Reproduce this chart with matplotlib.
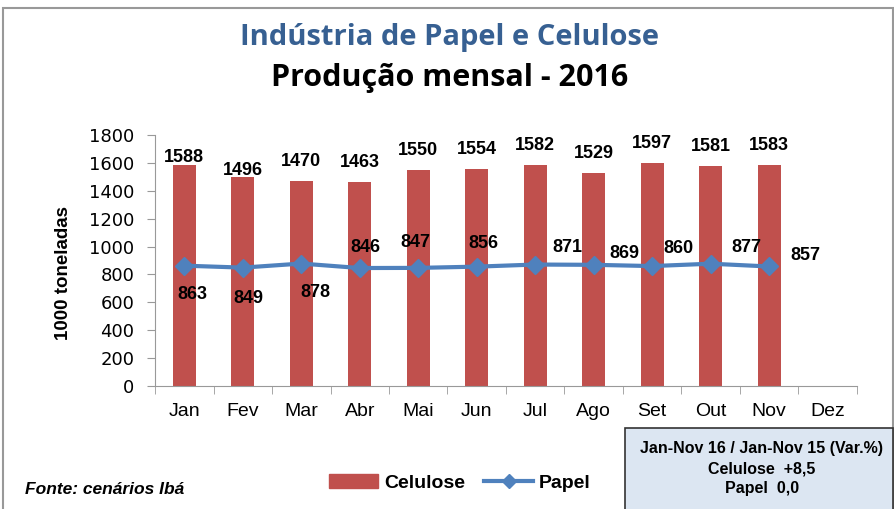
import numpy as np
import matplotlib.pyplot as plt
from matplotlib.patches import Rectangle, Patch
from matplotlib.lines import Line2D

meses = ['Jan', 'Fev', 'Mar', 'Abr', 'Mai', 'Jun', 'Jul', 'Ago', 'Set', 'Out', 'Nov', 'Dez']
celulose = [1588, 1496, 1470, 1463, 1550, 1554, 1582, 1529, 1597, 1581, 1583]
papel = [863, 849, 878, 846, 847, 856, 871, 869, 860, 877, 857]
# label offsets (points), as placed in the original chart
cel_off = [5, 5, 14, 14, 14, 14, 14, 14, 14, 14, 14]
papel_off = [(6, -21), (4, -22), (10, -21), (4, 15), (-2, 18), (5, 17),
             (23, 12), (22, 8), (19, 13), (26, 12), (26, 8)]

plt.rcParams['font.family'] = ['Liberation Sans', 'DejaVu Sans']

fig = plt.figure(figsize=(8.95, 5.09), dpi=100)
fig.patches.append(Rectangle((3/895, -0.01), 890/895, 1.01-8/509, transform=fig.transFigure,
                             fill=False, edgecolor='#999999', lw=1.5))

ax = fig.add_axes([155/895, 1-386/509, 702/895, 251/509])
x = np.arange(len(meses))
xc = np.arange(len(celulose))
ax.bar(xc, celulose, width=0.4, color='#C0504D', zorder=2)
ax.plot(xc, papel, color='#4F81BD', lw=3, marker='D', ms=9, zorder=3)

for i, v in enumerate(celulose):
    ax.annotate(str(v), (i, v), xytext=(0, cel_off[i]), textcoords='offset points',
                ha='center', va='center', fontsize=13, fontweight='bold')
for i, v in enumerate(papel):
    ax.annotate(str(v), (i, v), xytext=papel_off[i], textcoords='offset points',
                ha='center', va='center', fontsize=13, fontweight='bold')

ax.set_xlim(-0.5, 11.5)
ax.set_ylim(0, 1800)
ax.set_yticks(range(0, 1801, 200))
ax.set_xticks(x)
ax.set_xticklabels(meses, fontsize=14)
ax.set_xticks(np.arange(-0.5, 12, 1), minor=True)
ax.tick_params(axis='x', which='major', length=0, pad=12)
ax.tick_params(axis='x', which='minor', length=6, color='#999999')
ax.tick_params(axis='y', labelsize=13, length=6, color='#999999', pad=9)
for t in ax.get_yticklabels():
    t.set_family('DejaVu Sans')
for s in ['top', 'right']:
    ax.spines[s].set_visible(False)
for s in ['left', 'bottom']:
    ax.spines[s].set_color('#999999')
ax.set_ylabel('1000 toneladas', fontsize=13.5, fontweight='bold')
ax.yaxis.set_label_coords(-0.118, 0.45)

fig.text(450/895, 1-38/509, 'Indústria de Papel e Celulose', ha='center', va='center',
         fontsize=21, fontweight='bold', color='#376092', family='Open Sans')
fig.text(450/895, 1-78/509, 'Produção mensal - 2016', ha='center', va='center',
         fontsize=22, fontweight='bold', color='black', family='Open Sans')

fig.text(25/895, 1-490/509, 'Fonte: cenários Ibá', ha='left', va='center',
         fontsize=12.5, fontweight='bold', style='italic')

handles = [Patch(color='#C0504D'), Line2D([], [], color='#4F81BD', lw=3, marker='D', ms=7)]
fig.legend(handles, ['Celulose', 'Papel'], loc='center', bbox_to_anchor=(460/895, 1-483/509),
           ncol=2, frameon=False, prop={'weight': 'bold', 'size': 14},
           handlelength=2.5, columnspacing=1.0, handletextpad=0.3)

fig.patches.append(Rectangle((625/895, -0.01), 268/895, 1.01-428/509, transform=fig.transFigure,
                             facecolor='#DCE6F2', edgecolor='#333333', lw=1.2))
fig.text(762/895, 1-448/509, 'Jan-Nov 16 / Jan-Nov 15 (Var.%)', ha='center', va='center',
         fontsize=11.5, fontweight='bold')
fig.text(762/895, 1-469/509, 'Celulose  +8,5', ha='center', va='center',
         fontsize=11.5, fontweight='bold')
fig.text(762/895, 1-489/509, 'Papel  0,0', ha='center', va='center',
         fontsize=11.5, fontweight='bold')

fig.savefig('out.png', dpi=100)
